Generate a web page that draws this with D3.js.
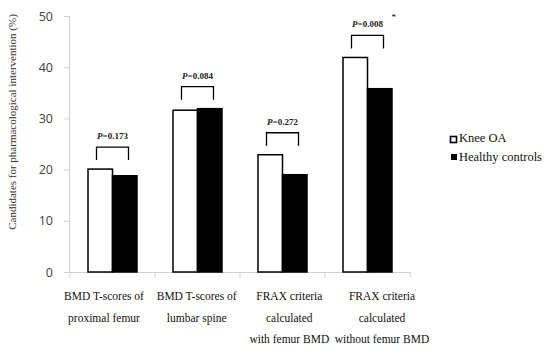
<!DOCTYPE html>
<html><head><meta charset="utf-8">
<script src="https://cdn.jsdelivr.net/npm/d3@7"></script>
<style>body{margin:0;background:#fff}</style>
</head><body>
<svg id="c" width="550" height="357"></svg>
<script>
const categories = [
  ["BMD T-scores of", "proximal femur"],
  ["BMD T-scores of", "lumbar spine"],
  ["FRAX criteria", "calculated", "with femur BMD"],
  ["FRAX criteria", "calculated", "without femur BMD"]
];
const seriesNames = ["Knee OA", "Healthy controls"];
const kneeOA = [20.1, 31.6, 22.9, 41.9];
const healthy = [18.8, 31.9, 19.0, 35.8];
const pLabels = ["=0.173", "=0.084", "=0.272", "=0.008"];
const significant = [false, false, false, true];
const yTicks = [0, 10, 20, 30, 40, 50];
const yTitle = "Candidates for pharmacological intervention (%)";

const svg = d3.select("#c");
const serif = "'Liberation Serif','Times New Roman',serif";
const sans = "'Open Sans','DejaVu Sans',sans-serif";
const idx = d3.range(categories.length);

const x0 = d3.scaleBand().domain(idx).range([70, 410]).padding(0);
const x1 = d3.scaleBand().domain([0, 1]).range([0, x0.bandwidth()]).paddingInner(0).paddingOuter(0.735);
const y = d3.scaleLinear().domain([0, 50]).range([272, 16]);
const xl = d3.scalePoint().domain(idx).range([104, 382]);

// y axis
const ya = svg.append("g").attr("transform", "translate(69,0)")
  .call(d3.axisLeft(y).tickValues(yTicks).tickSize(5).tickPadding(11));
ya.select(".domain").attr("stroke", "#d0d0d0");
ya.selectAll(".tick line").attr("stroke", "#d0d0d0");
ya.selectAll(".tick text").attr("fill", "#404040").style("font-family", sans).style("font-size", "12.5px");

// x axis
const xa = svg.append("g").attr("transform", "translate(0,272.5)");
xa.append("line").attr("x1", 69).attr("x2", 411).attr("stroke", "#d0d0d0");
xa.selectAll(".t").data(d3.range(categories.length + 1)).join("line")
  .attr("x1", i => i < categories.length ? x0(i) : x0(i - 1) + x0.bandwidth())
  .attr("x2", i => i < categories.length ? x0(i) : x0(i - 1) + x0.bandwidth())
  .attr("y1", 0).attr("y2", 5).attr("stroke", "#d0d0d0");

// bars
const rows = idx.map(i => [kneeOA[i], healthy[i]]);
const g = svg.append("g");
g.selectAll("g").data(rows).join("g")
  .attr("transform", (d, i) => `translate(${x0(i)},0)`)
  .selectAll("rect").data(d => d).join("rect")
  .attr("x", (d, j) => x1(j))
  .attr("width", x1.bandwidth())
  .attr("y", d => y(d))
  .attr("height", d => y(0) - y(d))
  .attr("fill", (d, j) => j === 0 ? "#fff" : "#000")
  .attr("stroke", "#000").attr("stroke-width", 1.5);

// brackets and p-values
idx.forEach(i => {
  const cx = x0(i) + x0.bandwidth() / 2;
  const top = y(Math.max(kneeOA[i], healthy[i]));
  const b = top - 9, t = b - 13;
  svg.append("path")
    .attr("d", `M${cx - 16},${b}V${t}H${cx + 16}V${b}`)
    .attr("fill", "none").attr("stroke", "#000").attr("stroke-width", 1.3);
  const tx = svg.append("text").attr("x", cx).attr("y", t - 8)
    .attr("text-anchor", "middle").attr("fill", "#222")
    .style("font-family", serif).style("font-size", "9px").style("font-weight", "bold");
  tx.append("tspan").style("font-style", "italic").text("P");
  tx.append("tspan").text(pLabels[i]);
  if (significant[i]) {
    svg.append("text").attr("x", cx + 24).attr("y", t - 15)
      .style("font-family", serif).style("font-size", "9px").text("*");
  }
});

// x labels
idx.forEach(i => {
  const t = svg.append("text").attr("text-anchor", "middle")
    .style("font-family", serif).style("font-size", "11.5px").attr("fill", "#111");
  categories[i].forEach((line, k) => {
    t.append("tspan").attr("x", xl(i)).attr("y", 300 + k * 21.5).text(line);
  });
});

// y title
svg.append("text").attr("transform", "translate(16,122) rotate(-90)")
  .attr("text-anchor", "middle").attr("fill", "#333")
  .style("font-family", serif).style("font-size", "11px").text(yTitle);

// legend
const lg = svg.append("g");
seriesNames.forEach((n, j) => {
  const ly = 142 + j * 18.5;
  if (j === 0) {
    lg.append("rect").attr("x", 450.5).attr("y", ly - 5.5).attr("width", 6).attr("height", 6)
      .attr("fill", "#fff").attr("stroke", "#000").attr("stroke-width", 1.6);
  } else {
    lg.append("rect").attr("x", 451).attr("y", ly - 6.5).attr("width", 6).attr("height", 6).attr("fill", "#000");
  }
  lg.append("text").attr("x", 459).attr("y", ly)
    .style("font-family", serif).style("font-size", "12.5px").attr("fill", "#111").text(n);
});
</script>
</body></html>
